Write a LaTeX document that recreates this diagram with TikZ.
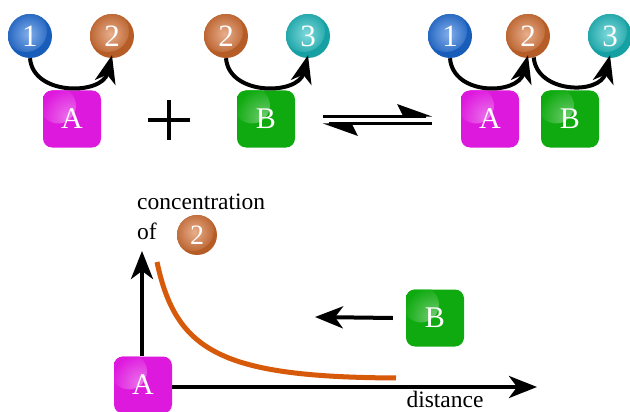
\documentclass[tikz,border=0pt]{standalone}
\usepackage{fontspec}
\setmainfont{Liberation Serif}
\usetikzlibrary{arrows.meta}
\definecolor{cblue}{RGB}{30,110,220}
\definecolor{corange}{RGB}{214,108,45}
\definecolor{ccyan}{RGB}{25,188,192}
\definecolor{cmag}{RGB}{222,25,222}
\definecolor{cgreen}{RGB}{15,170,15}
\definecolor{ccurve}{RGB}{215,90,10}
\begin{document}
\begin{tikzpicture}[x=1pt,y=-1pt,
  ball/.style={circle, minimum size=44pt, inner sep=0pt, text=white,
    font=\fontsize{31}{31}\selectfont, fill=#1!85!black,
    path picture={\shade[inner color=white!45!#1, outer color=#1!85!black]
      ([shift={(-4pt,5pt)}]path picture bounding box.center) circle (21pt);}},
  smallball/.style={ball=#1, minimum size=40pt, font=\fontsize{28}{28}\selectfont},
  box/.style={rectangle, rounded corners=9pt, minimum width=58pt, minimum height=57pt,
    inner sep=0pt, text=white, font=\fontsize{30}{30}\selectfont, fill=#1,
    path picture={\shade[inner color=white!40!#1, outer color=#1]
      ([shift={(15pt,-15pt)}]path picture bounding box.north west) circle (18pt);}},
  arc/.style={line width=4pt, -{Stealth[length=28pt,width=21pt,inset=8pt]}},
  axis/.style={line width=4pt, -{Stealth[length=28pt,width=22pt,inset=8pt]}},
  lbl/.style={font=\fontsize{23.5}{23.5}\selectfont, inner sep=0pt}
]
\useasboundingbox (0,0) rectangle (630,412);

% ---------- top row, left ----------
\node[ball=cblue] (L1) at (30,36) {1};
\node[ball=corange] (L2) at (112,36) {2};
\node[box=cmag] (A1) at (72,119) {A};
\draw[arc] (L1.south) .. controls +(3,38) and +(-10,40) .. ([yshift=3pt]L2.south);

% plus
\coordinate (P) at (169,120);
\draw[line width=4pt] ([xshift=-21pt]P) -- ([xshift=21pt]P);
\draw[line width=4pt] ([yshift=-20pt]P) -- ([yshift=20pt]P);

\node[ball=corange] (M2) at (226,36) {2};
\node[ball=ccyan] (M3) at (308,36) {3};
\node[box=cgreen] (B1) at (266,119) {B};
\draw[arc] (M2.south) .. controls +(3,38) and +(-10,40) .. ([yshift=3pt]M3.south);

% equilibrium arrows
\coordinate (e1) at (323,116.5);
\coordinate (e2) at (432,116.5);
\coordinate (e3) at (323,123.5);
\coordinate (e4) at (432,123.5);
\draw[line width=2.4pt] (e1) -- ([xshift=-6pt]e2);
\fill (e2) -- (397,104) -- (404,117.7) -- cycle;
\draw[line width=2.4pt] ([xshift=6pt]e3) -- (e4);
\fill (e3) -- (358,136) -- (351,122.3) -- cycle;

% ---------- top row, right ----------
\node[ball=cblue] (R1) at (450,36) {1};
\node[ball=corange] (R2) at (528,36) {2};
\node[ball=ccyan] (R3) at (610,36) {3};
\node[box=cmag] (A2) at (490,119) {A};
\node[box=cgreen] (B2) at (570,119) {B};
\draw[arc] (R1.south) .. controls +(3,38) and +(-10,40) .. ([yshift=3pt]R2.south);
\draw[arc] (R2.-75) .. controls +(3,36) and +(-10,40) .. ([yshift=3pt]R3.south);

% ---------- graph ----------
\node[lbl, anchor=base west] (conc) at (137,209) {concentration};
\node[lbl, anchor=base west] (of) at (137,239) {of};
\node[smallball=corange] (C2) at (197,235) {2};

\node[box=cmag] (A3) at (143,385) {A};
\coordinate (ytip) at (142,251);
\coordinate (xtip) at (537,387);
\draw[axis] (A3.north -| ytip) -- (ytip);
\draw[axis] (A3.east |- xtip) -- (xtip);

\draw[line width=5pt, ccurve] (157,262) .. controls (176,352) and (222,377) .. (396,378);

\node[box=cgreen] (B3) at (435,318) {B};
\coordinate (ltip) at (315,317);
\draw[axis] ([xshift=-13pt]B3.west) -- (ltip);

\node[lbl, anchor=base] (dist) at (445,407) {distance};
\end{tikzpicture}
\end{document}
